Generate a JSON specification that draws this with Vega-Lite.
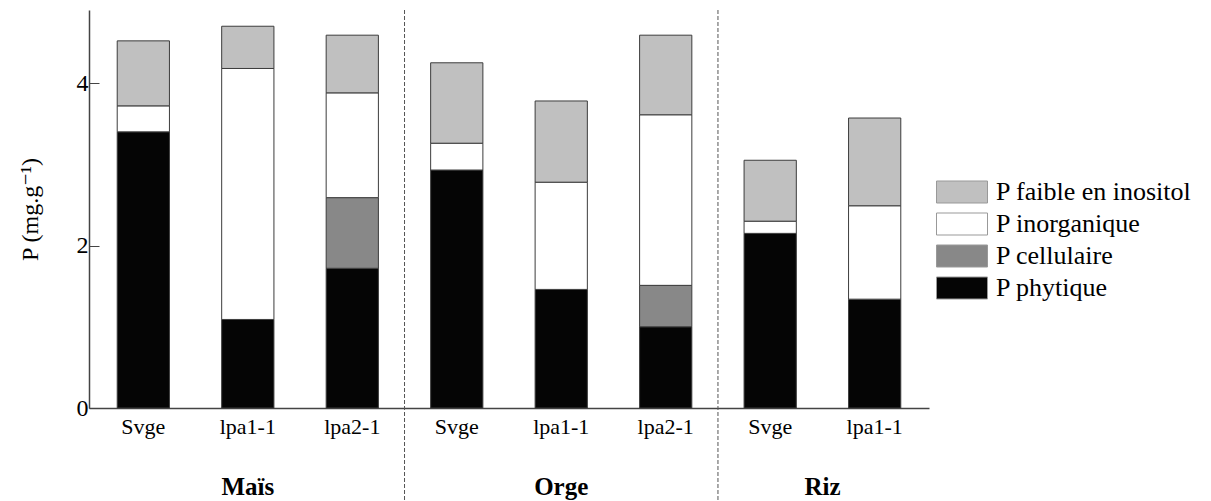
{
  "$schema": "https://vega.github.io/schema/vega-lite/v6.json",
  "autosize": {"type": "none"},
  "padding": {"left": 89, "top": 10, "right": 282, "bottom": 93},
  "width": 840,
  "height": 398,
  "background": "white",
  "config": {
    "view": {"stroke": null},
    "font": "'Times New Roman', 'Liberation Serif', 'DejaVu Serif', serif",
    "axis": {"labelFont": "'Times New Roman', 'Liberation Serif', 'DejaVu Serif', serif", "titleFont": "'Times New Roman', 'Liberation Serif', 'DejaVu Serif', serif"},
    "legend": {"labelFont": "'Times New Roman', 'Liberation Serif', 'DejaVu Serif', serif"},
    "text": {"font": "'Times New Roman', 'Liberation Serif', 'DejaVu Serif', serif"}
  },
  "datasets": {
    "fractions": [
      {"barre": "Maïs|Svge", "fraction": "P phytique", "niveau": 1, "valeur": 3.40},
      {"barre": "Maïs|Svge", "fraction": "P inorganique", "niveau": 3, "valeur": 0.32},
      {"barre": "Maïs|Svge", "fraction": "P faible en inositol", "niveau": 4, "valeur": 0.80},
      {"barre": "Maïs|lpa1-1", "fraction": "P phytique", "niveau": 1, "valeur": 1.09},
      {"barre": "Maïs|lpa1-1", "fraction": "P inorganique", "niveau": 3, "valeur": 3.09},
      {"barre": "Maïs|lpa1-1", "fraction": "P faible en inositol", "niveau": 4, "valeur": 0.52},
      {"barre": "Maïs|lpa2-1", "fraction": "P phytique", "niveau": 1, "valeur": 1.72},
      {"barre": "Maïs|lpa2-1", "fraction": "P cellulaire", "niveau": 2, "valeur": 0.87},
      {"barre": "Maïs|lpa2-1", "fraction": "P inorganique", "niveau": 3, "valeur": 1.29},
      {"barre": "Maïs|lpa2-1", "fraction": "P faible en inositol", "niveau": 4, "valeur": 0.71},
      {"barre": "Orge|Svge", "fraction": "P phytique", "niveau": 1, "valeur": 2.93},
      {"barre": "Orge|Svge", "fraction": "P inorganique", "niveau": 3, "valeur": 0.33},
      {"barre": "Orge|Svge", "fraction": "P faible en inositol", "niveau": 4, "valeur": 0.99},
      {"barre": "Orge|lpa1-1", "fraction": "P phytique", "niveau": 1, "valeur": 1.46},
      {"barre": "Orge|lpa1-1", "fraction": "P inorganique", "niveau": 3, "valeur": 1.32},
      {"barre": "Orge|lpa1-1", "fraction": "P faible en inositol", "niveau": 4, "valeur": 1.00},
      {"barre": "Orge|lpa2-1", "fraction": "P phytique", "niveau": 1, "valeur": 1.00},
      {"barre": "Orge|lpa2-1", "fraction": "P cellulaire", "niveau": 2, "valeur": 0.51},
      {"barre": "Orge|lpa2-1", "fraction": "P inorganique", "niveau": 3, "valeur": 2.10},
      {"barre": "Orge|lpa2-1", "fraction": "P faible en inositol", "niveau": 4, "valeur": 0.98},
      {"barre": "Riz|Svge", "fraction": "P phytique", "niveau": 1, "valeur": 2.15},
      {"barre": "Riz|Svge", "fraction": "P inorganique", "niveau": 3, "valeur": 0.15},
      {"barre": "Riz|Svge", "fraction": "P faible en inositol", "niveau": 4, "valeur": 0.75},
      {"barre": "Riz|lpa1-1", "fraction": "P phytique", "niveau": 1, "valeur": 1.34},
      {"barre": "Riz|lpa1-1", "fraction": "P inorganique", "niveau": 3, "valeur": 1.15},
      {"barre": "Riz|lpa1-1", "fraction": "P faible en inositol", "niveau": 4, "valeur": 1.08}
    ],
    "separations": [
      {"barre": "Maïs|lpa2-1"},
      {"barre": "Orge|lpa2-1"}
    ],
    "cultures": [
      {"barre": "Maïs|lpa1-1", "culture": "Maïs"},
      {"barre": "Orge|lpa1-1", "culture": "Orge"}
    ],
    "culture_riz": [
      {"barre": "Riz|Svge", "culture": "Riz"}
    ]
  },
  "layer": [
    {
      "data": {"name": "fractions"},
      "mark": {"type": "bar", "stroke": "#3c3c3c", "strokeWidth": 1},
      "encoding": {
        "x": {
          "field": "barre",
          "type": "nominal",
          "sort": null,
          "scale": {"paddingInner": 0.5, "paddingOuter": 0.27},
          "axis": {
            "title": null,
            "labelAngle": 0,
            "labelExpr": "split(datum.label, '|')[1]",
            "labelFontSize": 22,
            "labelColor": "black",
            "labelPadding": 8,
            "ticks": false,
            "domainColor": "#444",
            "domainWidth": 1.5
          }
        },
        "y": {
          "field": "valeur",
          "type": "quantitative",
          "stack": "zero",
          "scale": {"domain": [0, 4.9], "nice": false, "zero": true},
          "axis": {
            "title": "P (mg.g⁻¹)",
            "titleFontSize": 24,
            "titleFontWeight": "normal",
            "titleColor": "black",
            "titlePadding": 34,
            "values": [0, 2, 4],
            "format": "d",
            "grid": false,
            "tickSize": -10,
            "tickColor": "#444",
            "domainColor": "#444",
            "domainWidth": 1.5,
            "labelFontSize": 24,
            "labelColor": "black",
            "labelPadding": 11
          }
        },
        "color": {
          "field": "fraction",
          "type": "nominal",
          "scale": {
            "domain": ["P faible en inositol", "P inorganique", "P cellulaire", "P phytique"],
            "range": ["#c0c0c0", "#ffffff", "#888888", "#050505"]
          },
          "legend": {
            "title": null,
            "orient": "none",
            "legendX": 860,
            "legendY": 169,
            "symbolType": "M-2.55,-1.1H2.55V1.1H-2.55Z",
            "symbolSize": 400,
            "symbolStrokeColor": "#999",
            "symbolStrokeWidth": 1,
            "symbolOpacity": 1,
            "labelFontSize": 26,
            "labelColor": "black",
            "labelOffset": 21,
            "labelLimit": 400,
            "rowPadding": 6
          }
        },
        "order": {"field": "niveau", "type": "quantitative", "sort": "ascending"}
      }
    },
    {
      "data": {"name": "separations"},
      "mark": {"type": "rule", "color": "#555", "strokeWidth": 1, "strokeDash": [4, 2], "clip": false},
      "encoding": {
        "x": {"field": "barre", "type": "nominal", "sort": null, "bandPosition": 1.5},
        "y": {"datum": 4.9},
        "y2": {"datum": -1.15}
      }
    },
    {
      "data": {"name": "cultures"},
      "mark": {"type": "text", "fontSize": 25, "fontWeight": "bold", "color": "black", "baseline": "middle", "align": "center"},
      "encoding": {
        "x": {"field": "barre", "type": "nominal", "sort": null, "bandPosition": 0.5},
        "y": {"datum": -0.97},
        "text": {"field": "culture"}
      }
    },
    {
      "data": {"name": "culture_riz"},
      "mark": {"type": "text", "fontSize": 25, "fontWeight": "bold", "color": "black", "baseline": "middle", "align": "center"},
      "encoding": {
        "x": {"field": "barre", "type": "nominal", "sort": null, "bandPosition": 1.5},
        "y": {"datum": -0.97},
        "text": {"field": "culture"}
      }
    }
  ]
}
